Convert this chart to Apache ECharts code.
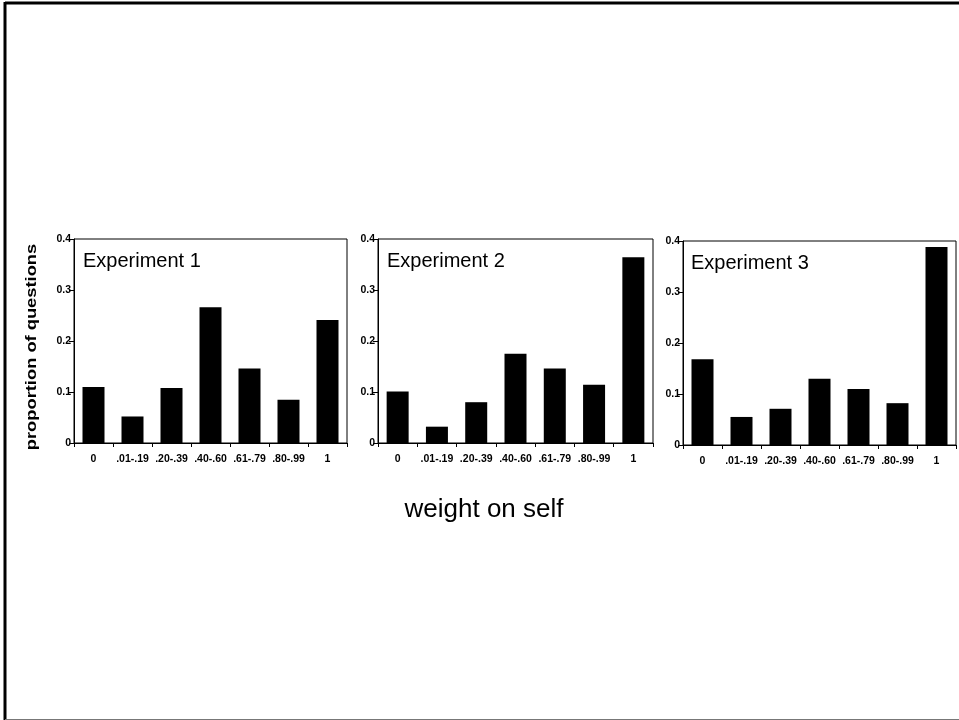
<!DOCTYPE html>
<html>
<head>
<meta charset="utf-8">
<script src="https://cdn.jsdelivr.net/npm/echarts@6/dist/echarts.min.js"></script>
<style>
html,body{margin:0;padding:0;background:#fff;}
#c{width:959px;height:720px;}
</style>
</head>
<body>
<div id="c"></div>
<script>
var categories = ['0', '.01-.19', '.20-.39', '.40-.60', '.61-.79', '.80-.99', '1'];
var exp1 = [0.110, 0.052, 0.108, 0.266, 0.146, 0.085, 0.241];
var exp2 = [0.101, 0.032, 0.080, 0.175, 0.146, 0.114, 0.364];
var exp3 = [0.168, 0.055, 0.071, 0.130, 0.110, 0.082, 0.388];
var panelTitles = ['Experiment 1', 'Experiment 2', 'Experiment 3'];
var yTicks = [0, 0.1, 0.2, 0.3, 0.4];
var xTitle = 'weight on self';
var yTitle = 'proportion of questions';

var narrow = "'Liberation Sans Narrow', 'Arial Narrow', 'Liberation Sans', Arial, sans-serif";
var sans = "'Liberation Sans', Arial, sans-serif";

var grids = [
  {left: 74, top: 239, width: 273, height: 204},
  {left: 378, top: 239, width: 275, height: 204},
  {left: 683, top: 241, width: 273, height: 204}
];
var allData = [exp1, exp2, exp3];

var option = {
  backgroundColor: '#fff',
  animation: false,
  grid: grids.map(function (g) {
    return Object.assign({show: true, borderColor: '#000', borderWidth: 1, backgroundColor: 'transparent'}, g);
  }),
  xAxis: grids.map(function (g, i) {
    return {
      type: 'category', gridIndex: i, data: categories,
      axisLine: {lineStyle: {color: '#000', width: 1}},
      axisTick: {show: true, length: 4, lineStyle: {color: '#000'}},
      axisLabel: {color: '#000', fontFamily: narrow, fontWeight: 'bold', fontSize: 10.5, margin: 11, interval: 0}
    };
  }),
  yAxis: grids.map(function (g, i) {
    return {
      type: 'value', gridIndex: i, min: yTicks[0], max: yTicks[yTicks.length - 1], interval: 0.1,
      splitLine: {show: false},
      axisLine: {show: true, lineStyle: {color: '#000', width: 1}},
      axisTick: {show: true, length: 5, lineStyle: {color: '#000'}},
      axisLabel: {color: '#000', fontFamily: narrow, fontWeight: 'bold', fontSize: 10.5, margin: 3}
    };
  }),
  series: allData.map(function (d, i) {
    return {
      type: 'bar', xAxisIndex: i, yAxisIndex: i, data: d,
      barWidth: 22, itemStyle: {color: '#000'}, silent: true
    };
  }),
  graphic: [
    {type: 'line', shape: {x1: 5, y1: 3, x2: 959, y2: 3}, style: {stroke: '#000', lineWidth: 3}},
    {type: 'line', shape: {x1: 5, y1: 2, x2: 5, y2: 720}, style: {stroke: '#000', lineWidth: 3}},
    {type: 'line', shape: {x1: 5, y1: 719.5, x2: 959, y2: 719.5}, style: {stroke: '#777', lineWidth: 1}},
    {type: 'text', x: 83, y: 261, style: {text: panelTitles[0], font: '20px ' + sans, fill: '#000', verticalAlign: 'middle'}},
    {type: 'text', x: 387, y: 261, style: {text: panelTitles[1], font: '20px ' + sans, fill: '#000', verticalAlign: 'middle'}},
    {type: 'text', x: 691, y: 263, style: {text: panelTitles[2], font: '20px ' + sans, fill: '#000', verticalAlign: 'middle'}},
    {type: 'text', x: 484, y: 510, style: {text: xTitle, font: '26px ' + sans, fill: '#000', align: 'center', verticalAlign: 'middle'}},
    {type: 'text', x: 32, y: 347, rotation: Math.PI / 2, scaleX: 1.22, scaleY: 0.92,
      style: {text: yTitle, font: 'bold 15px ' + sans, fill: '#000', align: 'center', verticalAlign: 'middle'}}
  ]
};
var chart = echarts.init(document.getElementById('c'), null, {renderer: 'canvas'});
chart.setOption(option);
</script>
</body>
</html>
